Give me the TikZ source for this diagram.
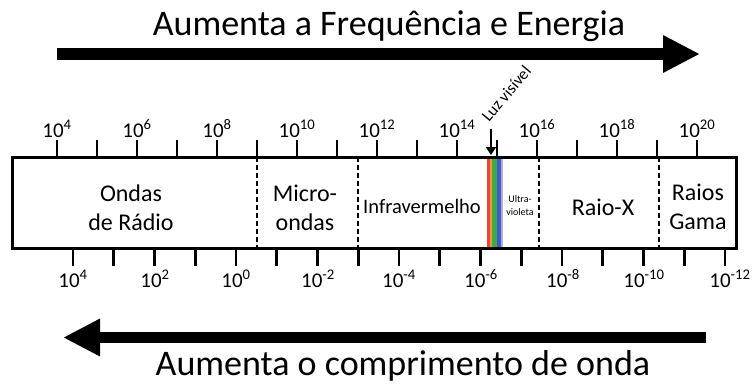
\documentclass[tikz,border=0pt]{standalone}
\usepackage{fontspec}
\setmainfont{Carlito}
\usetikzlibrary{arrows.meta}
\tikzset{
  bigarrow/.style={line width=12pt,-{Triangle[length=37pt,width=35pt]}},
  tick/.style={line width=2.8pt},
  divider/.style={line width=2pt,dash pattern=on 5pt off 3pt},
  toplabel/.style={anchor=base,font=\fontsize{21}{21}\selectfont,inner sep=0pt},
  botlabel/.style={anchor=base,font=\fontsize{21}{21}\selectfont,inner sep=0pt},
  region/.style={align=center,font=\fontsize{24}{29}\selectfont,inner sep=0pt},
  title/.style={anchor=base,font=\fontsize{36}{36}\selectfont,inner sep=0pt}
}
\definecolor{rbred}{HTML}{E8453C}
\definecolor{rborange}{HTML}{F39A2C}
\definecolor{rbgreen}{HTML}{3BAA48}
\definecolor{rbblue}{HTML}{3F5BC4}
\definecolor{rbviolet}{HTML}{B8A8E4}
\begin{document}
\begin{tikzpicture}[x=1pt,y=-1pt]
\useasboundingbox (0,0) rectangle (756,384);
% titles
\node[title] (ttop) at (389,35) {Aumenta a Frequência e Energia};
\node[title] (tbot) at (403,375) {Aumenta o comprimento de onda};
% big arrows
\coordinate (a1s) at (57,54);
\coordinate (a1e) at (700,54);
\draw[bigarrow] (a1s) -- (a1e);
\coordinate (a2s) at (706,337.5);
\coordinate (a2e) at (63,337.5);
\draw[bigarrow,line width=11pt] (a2s) -- (a2e);
% rainbow
\fill[rbred] (487,157) rectangle (489.5,248);
\fill[rborange] (489.5,157) rectangle (492,248);
\fill[rbgreen] (492,157) rectangle (497,248);
\fill[rbblue] (497,157) rectangle (501,248);
\fill[rbviolet] (501,157) rectangle (503,248);
% top ticks
\foreach \k in {0,...,16} {
  \draw[tick] ({57+40*\k},140) -- ({57+40*\k},157);
}
% bottom ticks
\foreach \k in {0,...,16} {
  \draw[tick] ({73+40.75*\k},248) -- ({73+40.75*\k},266);
}
% dividers
\foreach \x in {257,358,539,659} {
  \draw[divider] (\x,157) -- (\x,248);
}
% box
\node[draw,line width=3pt,minimum width=724pt,minimum height=91pt,inner sep=0pt] (box) at (374,202.5) {};
% top labels
\node[toplabel] (f4) at (57,137) {10\textsuperscript{4}};
\node[toplabel] (f6) at (137,137) {10\textsuperscript{6}};
\node[toplabel] (f8) at (217,137) {10\textsuperscript{8}};
\node[toplabel] (f10) at (297,137) {10\textsuperscript{10}};
\node[toplabel] (f12) at (377,137) {10\textsuperscript{12}};
\node[toplabel] (f14) at (457,137) {10\textsuperscript{14}};
\node[toplabel] (f16) at (537,137) {10\textsuperscript{16}};
\node[toplabel] (f18) at (617,137) {10\textsuperscript{18}};
\node[toplabel] (f20) at (697,137) {10\textsuperscript{20}};
% bottom labels
\node[botlabel] (w4) at (73,287) {10\textsuperscript{4}};
\node[botlabel] (w2) at (155,287) {10\textsuperscript{2}};
\node[botlabel] (w0) at (236,287) {10\textsuperscript{0}};
\node[botlabel] (wm2) at (318,287) {10\textsuperscript{-2}};
\node[botlabel] (wm4) at (399,287) {10\textsuperscript{-4}};
\node[botlabel] (wm6) at (481,287) {10\textsuperscript{-6}};
\node[botlabel] (wm8) at (563,287) {10\textsuperscript{-8}};
\node[botlabel] (wm10) at (644,287) {10\textsuperscript{-10}};
\node[botlabel] (wm12) at (730,287) {10\textsuperscript{-12}};
% regions
\node[region] (radio) at (131,208) {Ondas\\de Rádio};
\node[region] (micro) at (305,208) {Micro-\\ondas};
\node[region,font=\fontsize{20.5}{24}\selectfont] (ir) at (422,206) {Infravermelho};
\node[region,font=\fontsize{10}{13}\selectfont] (uv) at (520,206) {Ultra-\\violeta};
\node[region] (xray) at (603,207) {Raio-X};
\node[region] (gama) at (698,207) {Raios\\Gama};
% visible light
\node[anchor=base west,rotate=50,font=\fontsize{16.5}{16.5}\selectfont,inner sep=0pt] (luz) at (489,123) {Luz visível};
\coordinate (luzend) at (491,155);
\draw[line width=2.5pt,-{Triangle[length=8pt,width=10pt]}] (491,129) -- (luzend);
\end{tikzpicture}
\end{document}
